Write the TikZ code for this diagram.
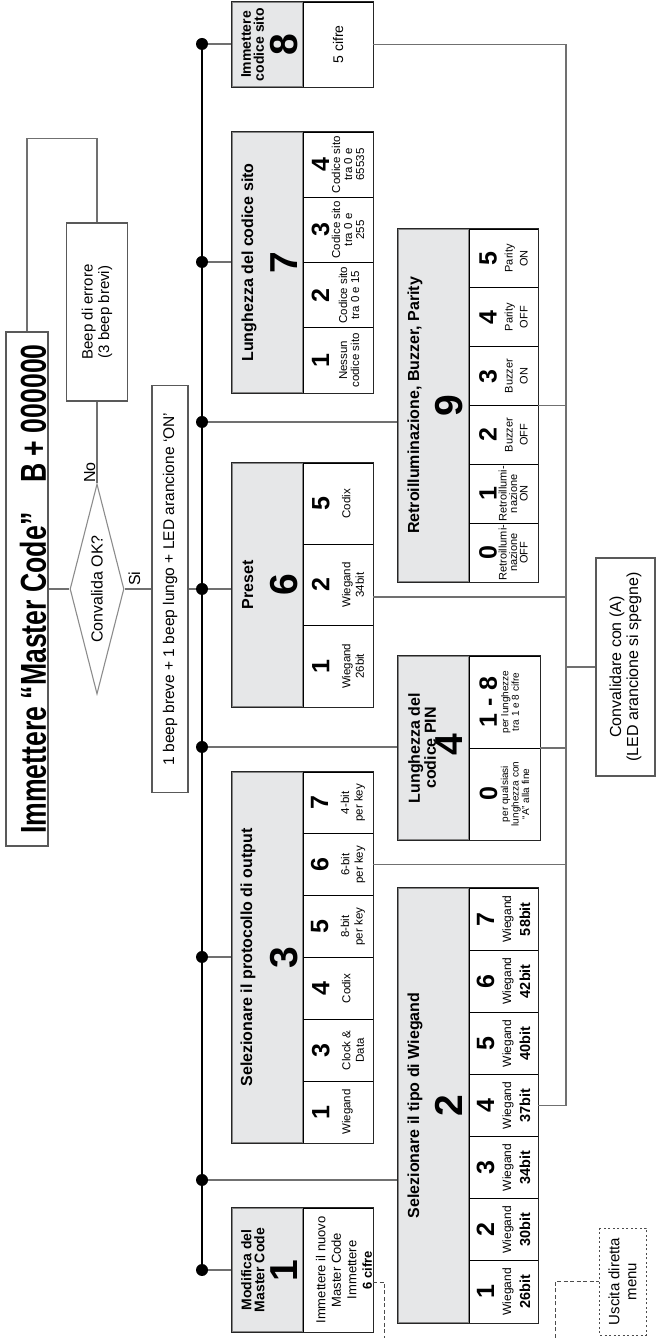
\documentclass[tikz,border=0pt]{standalone}
\usepackage{fontspec}
\setmainfont{Liberation Sans}
\newfontfamily\narrowfont[FakeStretch=0.74]{Liberation Sans}
\usetikzlibrary{shapes.geometric}

\definecolor{hdfill}{HTML}{E6E7E8}
\definecolor{wire}{HTML}{707070}
\definecolor{hdline}{HTML}{858585}

\newcommand{\dg}[1]{{\fontsize{25}{25}\selectfont\bfseries #1}}
\newcommand{\bitw}[1]{{\fontsize{14.5}{14.5}\selectfont\bfseries #1}}

\tikzset{
  lnk/.style={draw=wire, line width=1.1pt},
  bus/.style={draw=black, line width=1.4pt},
  dot/.style={circle, fill=black, inner sep=0pt, minimum size=12pt},
  flowbox/.style={draw=black!65, line width=1.1pt, align=center, inner sep=0pt},
  hd/.style={draw=hdline, fill=hdfill, line width=1.2pt, minimum height=71pt, inner sep=0pt},
  hdtitle/.style={font=\fontsize{16}{14}\selectfont\bfseries, align=center, inner sep=0pt},
  hdsmall/.style={font=\fontsize{14}{13}\selectfont\bfseries, align=center, inner sep=0pt},
  bignum/.style={font=\fontsize{39}{39}\selectfont\bfseries, inner sep=0pt},
  cl/.style={draw=black, line width=0.8pt, inner sep=0pt, align=center,
             minimum height=70pt, font=\fontsize{11.5}{13.5}\selectfont},
  boxframe/.style={draw=black!85, line width=1.5pt},
  dashlink/.style={draw=black!70, line width=0.9pt, dash pattern=on 4pt off 2.5pt},
}

\begin{document}
\begin{tikzpicture}[x=1pt,y=1pt,rotate=90,every node/.append style={transform shape}]
  \useasboundingbox (0,-656) rectangle (1338,0);

  % start of the menu ----------------------------------------------------------
  \node[flowbox, minimum width=514pt, minimum height=42pt, text height=40pt, text depth=2pt,
        font=\narrowfont\bfseries\fontsize{36}{36}\selectfont]
        (title) at (749,-27) {Immettere “Master Code”\hspace{30pt}B + 000000};
  \node[flowbox, minimum width=178pt, minimum height=61pt, font=\fontsize{15}{16.5}\selectfont]
        (beep) at (1026,-97) {Beep di errore\\(3 beep brevi)};
  \node[diamond, draw=black!45, line width=1.1pt, aspect=3.9, minimum width=210pt,
        minimum height=54pt, inner sep=0pt, font=\fontsize{16}{16}\selectfont]
        (ok) at (749,-97) {Convalida OK?};
  \node[font=\fontsize{16}{16}\selectfont, inner sep=0pt, anchor=base west] (no) at (855,-95) {No};
  \node[font=\fontsize{16}{16}\selectfont, inner sep=0pt, anchor=base west] (si) at (752,-140) {Si};
  \node[flowbox, minimum width=407pt, minimum height=36pt, font=\fontsize{15.5}{16}\selectfont]
        (beepok) at (749,-170) {1 beep breve + 1 beep lungo + LED arancione ‘ON’};

  \draw[lnk] (title.south) -- (ok.north);
  \draw[lnk] (ok.east) -- (beep.west);
  \draw[lnk] (beep.east) -- ++(84,0) |- (title.east);
  \draw[lnk] (ok.south) -- (beepok.north);

  % bus with the menu entries --------------------------------------------------
  \node[dot] (d8) at (1294,-202) {};
  \node[dot] (d7) at (1076,-202) {};
  \node[dot] (d9) at (916,-202) {};
  \node[dot] (d6) at (749,-202) {};
  \node[dot] (d4) at (591,-202) {};
  \node[dot] (d3) at (381,-202) {};
  \node[dot] (d2) at (158,-202) {};
  \node[dot] (d1) at (68,-202) {};
  \draw[bus] (d8.center) -- (d1.center);
  \draw[lnk] (beepok.south) -- (d6);

  %----------------------------------------------------------------------------%
  %  menu 8  ------------------------------------------------------------------%
  \node[hd, minimum width=85pt] (h8) at (1293.5,-267.5) {};
  \node[hdsmall, anchor=north] (t8) at (1293.5,-241) {Immettere\\codice sito};
  \node[bignum, anchor=base] (n8) at (1293.5,-297) {8};
  \node[cl, minimum width=85pt, font=\fontsize{14}{15}\selectfont] (c8) at (1293.5,-338) {5 cifre};
  \draw[boxframe] (h8.north west) rectangle (c8.south east);

  %  menu 7  ------------------------------------------------------------------%
  \node[hd, minimum width=261pt] (h7) at (1075.5,-267.5) {};
  \node[hdtitle, anchor=base] (t7) at (1075.5,-253) {Lunghezza del codice sito};
  \node[bignum, anchor=base] (n7) at (1075.5,-297) {7};
  \node[cl, minimum width=65.25pt, font=\fontsize{11.5}{12}\selectfont] (c7a) at (977.6,-338)
        {\dg{1}\\[6pt]Nessun\\codice sito\\[-7pt]~};
  \node[cl, minimum width=65.25pt, font=\fontsize{11.5}{12}\selectfont] (c7b) at (1042.9,-338)
        {\dg{2}\\[6pt]Codice sito\\tra 0 e 15\\[-7pt]~};
  \node[cl, minimum width=65.25pt, font=\fontsize{11.5}{12}\selectfont] (c7c) at (1108.1,-338)
        {\dg{3}\\[-1pt]Codice sito\\tra 0 e\\255};
  \node[cl, minimum width=65.25pt, font=\fontsize{11.5}{12}\selectfont] (c7d) at (1173.4,-338)
        {\dg{4}\\[-1pt]Codice sito\\tra 0 e\\65535};
  \draw[boxframe] (h7.north west) rectangle (c7d.south east);

  %  menu 6  ------------------------------------------------------------------%
  \node[hd, minimum width=244pt] (h6) at (753,-267.5) {};
  \node[hdtitle, anchor=base] (t6) at (753,-253) {Preset};
  \node[bignum, anchor=base] (n6) at (753,-297) {6};
  \node[cl, minimum width=81.33pt] (c6a) at (671.7,-338) {\dg{1}\\[7.5pt]Wiegand\\26bit};
  \node[cl, minimum width=81.33pt] (c6b) at (753,-338) {\dg{2}\\[7.5pt]Wiegand\\34bit};
  \node[cl, minimum width=81.33pt] (c6c) at (834.3,-338) {\dg{5}\\[7.5pt]Codix\\~};
  \draw[boxframe] (h6.north west) rectangle (c6c.south east);

  %  menu 3  ------------------------------------------------------------------%
  \node[hd, minimum width=371pt] (h3) at (380.5,-267.5) {};
  \node[hdtitle, anchor=base] (t3) at (380.5,-252) {Selezionare il protocollo di output};
  \node[bignum, anchor=base] (n3) at (380.5,-297) {3};
  \node[cl, minimum width=61.83pt] (c3a) at (225.9,-338) {\dg{1}\\[7.5pt]Wiegand\\~};
  \node[cl, minimum width=61.83pt] (c3b) at (287.75,-338) {\dg{3}\\[7.5pt]Clock \&\\Data};
  \node[cl, minimum width=61.83pt] (c3c) at (349.6,-338) {\dg{4}\\[7.5pt]Codix\\~};
  \node[cl, minimum width=61.83pt] (c3d) at (411.4,-338) {\dg{5}\\[7.5pt]8-bit\\per key};
  \node[cl, minimum width=61.83pt] (c3e) at (473.25,-338) {\dg{6}\\[7.5pt]6-bit\\per key};
  \node[cl, minimum width=61.83pt] (c3f) at (535.1,-338) {\dg{7}\\[7.5pt]4-bit\\per key};
  \draw[boxframe] (h3.north west) rectangle (c3f.south east);

  %  menu 1  ------------------------------------------------------------------%
  \node[hd, minimum width=124pt] (h1) at (68,-267.5) {};
  \node[hdsmall, anchor=north] (t1) at (68,-241) {Modifica del\\Master Code};
  \node[bignum, anchor=base] (n1) at (67,-297) {1};
  \node[cl, minimum width=124pt] (c1) at (68,-338) {};
  \node[font=\fontsize{13}{15.5}\selectfont, align=center, inner sep=0pt] (c1t) at (68,-344)
        {Immettere il nuovo\\Master Code\\Immettere\\\textbf{6 cifre}};
  \draw[boxframe] (h1.north west) rectangle (c1.south east);

  %  menu 2  ------------------------------------------------------------------%
  \node[hd, minimum width=435pt] (h2) at (232.5,-433.5) {};
  \node[hdtitle, anchor=base] (t2) at (232.5,-419) {Selezionare il tipo di Wiegand};
  \node[bignum, anchor=base] (n2) at (232.5,-462.5) {2};
  \node[cl, minimum width=62.14pt, minimum height=69pt, font=\fontsize{12}{13}\selectfont]
        (c2a) at (46.1,-503.5) {\dg{1}\\[4pt]Wiegand\\[6pt]\bitw{26bit}};
  \node[cl, minimum width=62.14pt, minimum height=69pt, font=\fontsize{12}{13}\selectfont]
        (c2b) at (108.2,-503.5) {\dg{2}\\[4pt]Wiegand\\[6pt]\bitw{30bit}};
  \node[cl, minimum width=62.14pt, minimum height=69pt, font=\fontsize{12}{13}\selectfont]
        (c2c) at (170.4,-503.5) {\dg{3}\\[4pt]Wiegand\\[6pt]\bitw{34bit}};
  \node[cl, minimum width=62.14pt, minimum height=69pt, font=\fontsize{12}{13}\selectfont]
        (c2d) at (232.5,-503.5) {\dg{4}\\[4pt]Wiegand\\[6pt]\bitw{37bit}};
  \node[cl, minimum width=62.14pt, minimum height=69pt, font=\fontsize{12}{13}\selectfont]
        (c2e) at (294.6,-503.5) {\dg{5}\\[4pt]Wiegand\\[6pt]\bitw{40bit}};
  \node[cl, minimum width=62.14pt, minimum height=69pt, font=\fontsize{12}{13}\selectfont]
        (c2f) at (356.8,-503.5) {\dg{6}\\[4pt]Wiegand\\[6pt]\bitw{42bit}};
  \node[cl, minimum width=62.14pt, minimum height=69pt, font=\fontsize{12}{13}\selectfont]
        (c2g) at (418.9,-503.5) {\dg{7}\\[4pt]Wiegand\\[6pt]\bitw{58bit}};
  \draw[boxframe] (h2.north west) rectangle (c2g.south east);

  %  menu 4  ------------------------------------------------------------------%
  \node[hd, minimum width=184pt] (h4) at (590,-433.5) {};
  \node[hdtitle, anchor=north] (t4) at (590,-408) {Lunghezza del\\codice PIN};
  \node[bignum, anchor=base] (n4) at (593,-462.5) {4};
  \node[cl, minimum width=92pt, minimum height=71pt, font=\fontsize{10}{10.5}\selectfont]
        (c4a) at (544,-504.5) {\dg{0}\\[0.5pt]per qualsiasi\\lunghezza con\\“A” alla fine};
  \node[cl, minimum width=92pt, minimum height=71pt, font=\fontsize{10}{10.5}\selectfont]
        (c4b) at (636,-504.5) {\dg{1 - 8}\\[1pt]per lunghezze\\tra 1 e 8 cifre\\~};
  \draw[boxframe] (h4.north west) rectangle (c4b.south east);

  %  menu 9  ------------------------------------------------------------------%
  \node[hd, minimum width=353pt] (h9) at (932.5,-433.5) {};
  \node[hdtitle, anchor=base] (t9) at (932.5,-419) {Retroilluminazione, Buzzer, Parity};
  \node[bignum, anchor=base] (n9) at (932.5,-462.5) {9};
  \node[cl, minimum width=58.83pt, minimum height=69pt, font=\fontsize{11}{10.5}\selectfont]
        (c9a) at (785.4,-503.5) {\dg{0}\\[-0.5pt]Retroillumi-\\nazione\\OFF};
  \node[cl, minimum width=58.83pt, minimum height=69pt, font=\fontsize{11}{10.5}\selectfont]
        (c9b) at (844.25,-503.5) {\dg{1}\\[-0.5pt]Retroillumi-\\nazione\\ON};
  \node[cl, minimum width=58.83pt, minimum height=69pt, font=\fontsize{11}{10.5}\selectfont]
        (c9c) at (903.1,-503.5) {\dg{2}\\[5.5pt]Buzzer\\[4.5pt]OFF};
  \node[cl, minimum width=58.83pt, minimum height=69pt, font=\fontsize{11}{10.5}\selectfont]
        (c9d) at (961.9,-503.5) {\dg{3}\\[5.5pt]Buzzer\\[4.5pt]ON};
  \node[cl, minimum width=58.83pt, minimum height=69pt, font=\fontsize{11}{10.5}\selectfont]
        (c9e) at (1020.75,-503.5) {\dg{4}\\[5.5pt]Parity\\[4.5pt]OFF};
  \node[cl, minimum width=58.83pt, minimum height=69pt, font=\fontsize{11}{10.5}\selectfont]
        (c9f) at (1079.6,-503.5) {\dg{5}\\[5.5pt]Parity\\[4.5pt]ON};
  \draw[boxframe] (h9.north west) rectangle (c9f.south east);

  % bus to the entries
  \draw[lnk] (d8) -- (d8 |- h8.north);
  \draw[lnk] (d7) -- (d7 |- h7.north);
  \draw[lnk] (d9) -- (d9 |- h9.north);
  \draw[lnk] (d6) -- (d6 |- h6.north);
  \draw[lnk] (d4) -- (d4 |- h4.north);
  \draw[lnk] (d3) -- (d3 |- h3.north);
  \draw[lnk] (d2) -- (d2 |- h2.north);
  \draw[lnk] (d1) -- (d1 |- h1.north);

  % confirm with (A) -----------------------------------------------------------
  \node[flowbox, minimum width=218pt, minimum height=59pt, font=\fontsize{16}{17}\selectfont]
        (conv) at (671,-625.5) {Convalidare con (A)\\(LED arancione si spegne)};
  \coordinate (rb) at (0,-566);
  \coordinate (p6) at (741,-373);
  \draw[lnk] (c8.south) -- (c8.south |- rb) -- (c2d.south |- rb) -- (c2d.south);
  \draw[lnk] (h9.center |- c9a.south) -- (h9.center |- rb);
  \draw[lnk] (p6) -- (p6 |- rb);
  \draw[lnk] (conv.north) -- (conv.north |- rb);
  \draw[lnk] (h4.center |- c4a.south) -- (h4.center |- rb);
  \draw[lnk] (c3e.south) -- (c3e.south |- rb);

  % direct exit ----------------------------------------------------------------
  \node[flowbox, draw=black!70, line width=0.9pt, dash pattern=on 2pt off 2.5pt,
        minimum width=107pt, minimum height=47pt, font=\fontsize{15}{17}\selectfont]
        (esc) at (56.5,-622.5) {Uscita diretta\\menu};
  \coordinate (x1) at (56,-373);
  \coordinate (cut1) at (0,-384);
  \coordinate (cut2) at (0,-555);
  \draw[dashlink] (x1) -- (x1 |- cut1) -- (cut1);
  \draw[dashlink] (cut2) -| (esc.north);
\end{tikzpicture}
\end{document}
